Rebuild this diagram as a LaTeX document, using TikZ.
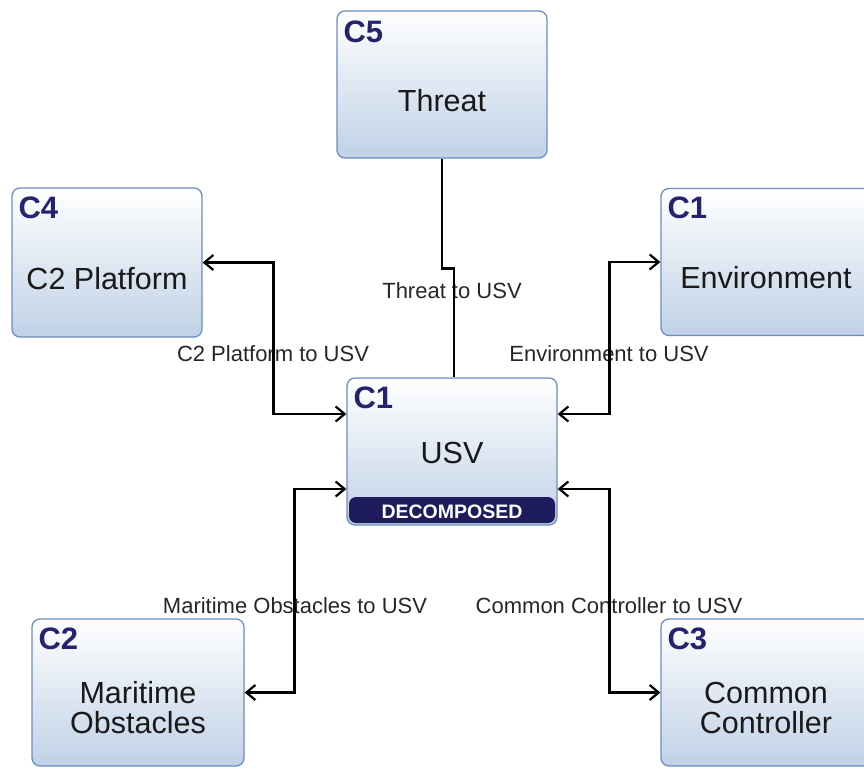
\documentclass[tikz,border=0pt]{standalone}
\usepackage{fontspec}
\setmainfont{Liberation Sans}
\usetikzlibrary{arrows.meta,positioning}
\definecolor{boxline}{RGB}{108,142,191}
\definecolor{boxbot}{RGB}{192,209,230}
\definecolor{tagblue}{RGB}{38,34,112}
\definecolor{decompblue}{RGB}{30,28,92}
\tikzset{
  blockbox/.style={ draw=boxline, line width=1.3pt, rounded corners=8pt, top color=white, bottom color=boxbot, minimum width=210pt, minimum height=147pt, inner sep=0pt }
}
\tikzset{
  decomposed/.style={ path picture={
      \fill[decompblue, rounded corners=7pt] ([xshift=2pt, yshift=2pt]path picture bounding box.south west)
        rectangle ([xshift=-2pt, yshift=28pt]path picture bounding box.south east);
  } }
}
\tikzset{
  tagtext/.style={ anchor=north west, font=\bfseries\fontsize{31}{31}\selectfont, text=tagblue, inner sep=0pt }
}
\tikzset{
  maintext/.style={ font=\fontsize{30.5}{30}\selectfont, text=black!90, align=center, inner sep=0pt }
}
\tikzset{
  elabel/.style={ font=\fontsize{22}{22}\selectfont, text=black!85, inner sep=0pt }
}
\tikzset{
  flow/.style={ line width=2.6pt, >={Straight Barb[length=9pt, width=15pt, line width=2.2pt]} }
}

\begin{document}
\begin{tikzpicture}[x=1pt, y=-1pt]
      \useasboundingbox (0, 0) rectangle (864, 768);

      \node[blockbox] (threat) at (442, 84.5) {};
      \node[blockbox, minimum width=190pt, minimum height=149pt] (platform) at (107, 262.5) {};
      \node[blockbox] (env) at (766, 262) {};
      \node[blockbox, decomposed] (usv) at (452, 451.5) {};
      \node[blockbox, minimum width=212pt] (obst) at (138, 692.5) {};
      \node[blockbox] (ctrl) at (766, 692.5) {};

      \node[tagtext] (threattag) at ([xshift=7pt, yshift=-10pt]threat.north west) {C5};
      \node[tagtext] (platformtag) at ([xshift=7pt, yshift=-9pt]platform.north west) {C4};
      \node[tagtext] (envtag) at ([xshift=7pt, yshift=-9pt]env.north west) {C1};
      \node[tagtext] (usvtag) at ([xshift=7pt, yshift=-9pt]usv.north west) {C1};
      \node[tagtext] (obsttag) at ([xshift=7pt, yshift=-9pt]obst.north west) {C2};
      \node[tagtext] (ctrltag) at ([xshift=7pt, yshift=-9pt]ctrl.north west) {C3};

      \node[maintext] (threattxt) at ([yshift=-16pt]threat.center) {Threat};
      \node[maintext] (platformtxt) at ([yshift=-16pt]platform.center) {C2 Platform};
      \node[maintext] (envtxt) at ([yshift=-16pt]env.center) {Environment};
      \node[maintext] (usvtxt) at ([yshift=-1pt]usv.center) {USV};
      \node[maintext] (obsttxt) at ([yshift=-15pt]obst.center) {Maritime\\Obstacles};
      \node[maintext] (ctrltxt) at ([yshift=-15pt]ctrl.center) {Common\\Controller};
      \node[text=white, font=\bfseries\fontsize{19.5}{19.5}\selectfont, inner sep=0pt] (usvstate) at ([yshift=14pt]usv.south) {DECOMPOSED};

      \node[elabel] (lthreat) at (452, 291) {Threat to USV};
      \node[elabel] (lplatform) at (273, 354) {C2 Platform to USV};
      \node[elabel] (lenv) at (609, 354) {Environment to USV};
      \node[elabel] (lobst) at (295, 606) {Maritime Obstacles to USV};
      \node[elabel] (lctrl) at (609, 606) {Common Controller to USV};

      \begin{scope}[flow]
        \draw (threat.south) -- ++(0, 110) -| ([xshift=2pt]usv.north);

        \draw[<->] (platform.east) -- ++(71, 0) |- ([yshift=37.5pt]usv.west);
        \draw[<->] ([yshift=37.5pt]usv.east) -- ++(52, 0) |- (env.west);

        \draw[<->] ([yshift=-37.5pt]usv.west) -- ++(-52, 0) |- (obst.east);
        \draw[<->] ([yshift=-37.5pt]usv.east) -- ++(52, 0) |- (ctrl.west);
      \end{scope}
    \end{tikzpicture}
\end{document}
